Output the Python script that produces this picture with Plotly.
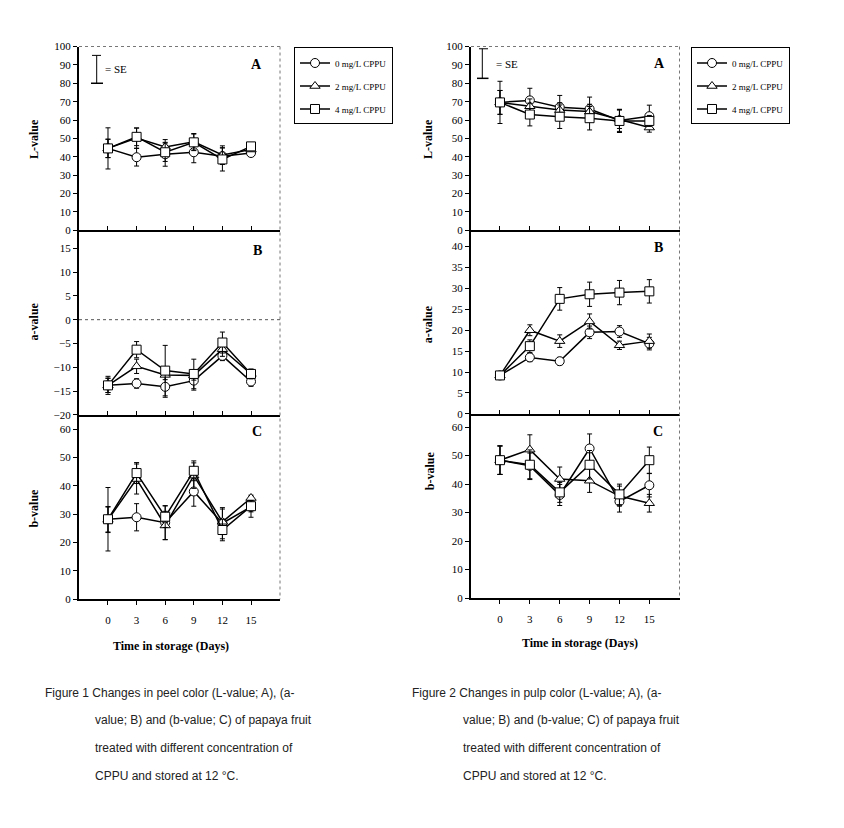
import math
import plotly.graph_objects as go

# page has an 8px body margin; the figure is sized to fit inside the window
OX, OY = 8, 8
FW, FH = 844 - 2 * OX, 828 - 2 * OY

days = [0, 3, 6, 9, 12, 15]
series_names = ["0 mg/L CPPU", "2 mg/L CPPU", "4 mg/L CPPU"]
x_tick_labels = ["0", "3", "6", "9", "12", "15"]

# Figure 1 - peel
peel_L_0 = [44.6, 39.8, 41.4, 42.5, 40.4, 42.1]
peel_L_2 = [44.6, 50.2, 45.4, 48.2, 41.0, 44.0]
peel_L_4 = [44.6, 50.9, 42.5, 47.9, 38.6, 45.7]
peel_L_0_se = [5.0, 4.8, 6.5, 5.7, 4.5, 1.0]
peel_L_2_se = [5.0, 5.5, 4.0, 4.5, 5.0, 1.0]
peel_L_4_se = [11.2, 4.8, 5.0, 4.5, 6.3, 1.0]

peel_a_0 = [-13.8, -13.4, -14.1, -12.8, -7.6, -13.0]
peel_a_2 = [-13.8, -9.8, -11.6, -11.7, -6.2, -11.4]
peel_a_4 = [-13.8, -6.3, -10.7, -11.4, -4.8, -11.4]
peel_a_0_se = [1.9, 1.0, 2.2, 2.0, 1.0, 1.0]
peel_a_2_se = [1.5, 1.5, 1.0, 1.0, 1.5, 1.0]
peel_a_4_se = [1.5, 1.7, 5.3, 3.1, 2.2, 1.0]

peel_b_0 = [28.2, 28.9, 27.0, 38.0, 26.8, 32.6]
peel_b_2 = [28.0, 42.4, 26.0, 43.6, 27.3, 35.7]
peel_b_4 = [28.2, 44.5, 29.1, 45.3, 24.4, 32.8]
peel_b_0_se = [4.5, 4.8, 6.0, 5.2, 5.5, 3.7]
peel_b_2_se = [4.5, 5.3, 5.0, 4.5, 4.5, 1.0]
peel_b_4_se = [11.2, 3.7, 3.8, 3.5, 3.8, 2.0]

# Figure 2 - pulp
pulp_L_0 = [69.6, 70.7, 67.0, 66.0, 59.8, 62.1]
pulp_L_2 = [69.6, 67.5, 65.4, 64.6, 60.4, 55.9]
pulp_L_4 = [69.6, 63.0, 61.8, 61.0, 59.5, 59.5]
pulp_L_0_se = [6.5, 6.6, 6.4, 6.5, 6.0, 6.0]
pulp_L_2_se = [6.5, 4.0, 4.0, 4.0, 5.0, 2.5]
pulp_L_4_se = [11.5, 6.2, 6.4, 6.4, 6.3, 3.0]

pulp_a_0 = [9.2, 13.5, 12.6, 19.5, 19.7, 16.8]
pulp_a_2 = [9.2, 20.0, 17.4, 22.1, 16.4, 17.4]
pulp_a_4 = [9.2, 16.2, 27.5, 28.6, 29.0, 29.3]
pulp_a_0_se = [0.8, 1.0, 0.9, 1.5, 1.4, 1.5]
pulp_a_2_se = [0.8, 1.3, 1.5, 1.8, 1.0, 1.7]
pulp_a_4_se = [0.8, 1.5, 2.7, 2.9, 2.9, 2.8]

pulp_b_0 = [48.4, 46.4, 36.2, 52.5, 33.9, 39.6]
pulp_b_2 = [48.4, 52.1, 41.8, 41.2, 35.8, 33.3]
pulp_b_4 = [48.4, 46.8, 37.1, 46.8, 36.4, 48.4]
pulp_b_0_se = [5.0, 4.5, 3.7, 5.1, 3.7, 4.1]
pulp_b_2_se = [5.0, 5.2, 4.2, 4.1, 3.5, 3.1]
pulp_b_4_se = [5.0, 5.2, 3.5, 5.0, 3.6, 4.6]

captions_1 = ["Figure 1 Changes in peel color (L-value; A), (a-",
              "value; B) and (b-value; C) of papaya fruit",
              "treated with different concentration of",
              "CPPU and stored at 12 °C."]
captions_2 = ["Figure 2 Changes in pulp color (L-value; A), (a-",
              "value; B) and (b-value; C) of papaya fruit",
              "treated with different concentration of",
              "CPPU and stored at 12 °C."]


def px(x):
    return (x - OX) / FW


def py(y):
    return 1 - (y - OY) / FH


SERIF = "Liberation Serif"
SANS = "Liberation Sans"
symbols = ["circle", "triangle-up", "square"]

fig = go.Figure()

panels = [
    (1, [peel_L_0, peel_L_2, peel_L_4], [peel_L_0_se, peel_L_2_se, peel_L_4_se], "legend"),
    (2, [peel_a_0, peel_a_2, peel_a_4], [peel_a_0_se, peel_a_2_se, peel_a_4_se], None),
    (3, [peel_b_0, peel_b_2, peel_b_4], [peel_b_0_se, peel_b_2_se, peel_b_4_se], None),
    (4, [pulp_L_0, pulp_L_2, pulp_L_4], [pulp_L_0_se, pulp_L_2_se, pulp_L_4_se], "legend2"),
    (5, [pulp_a_0, pulp_a_2, pulp_a_4], [pulp_a_0_se, pulp_a_2_se, pulp_a_4_se], None),
    (6, [pulp_b_0, pulp_b_2, pulp_b_4], [pulp_b_0_se, pulp_b_2_se, pulp_b_4_se], None),
]

for idx, vals, ses, leg in panels:
    sfx = "" if idx == 1 else str(idx)
    for k in range(3):
        fig.add_trace(go.Scatter(
            x=days, y=vals[k], mode="lines+markers",
            name=series_names[k],
            xaxis="x" + sfx, yaxis="y" + sfx,
            line=dict(color="black", width=1.5),
            marker=dict(symbol=symbols[k], size=9, color="white",
                        line=dict(color="black", width=1)),
            error_y=dict(type="data", array=ses[k], visible=True,
                         color="black", thickness=1, width=2.5),
            showlegend=leg is not None,
            legend=leg if leg else "legend",
            legendgroup=(leg or "n") + str(k),
        ))

# geometry (window pixels)
L_X = (79, 280)
R_X = (471, 679.5)
L_Y = [(41, 227.7), (227.7, 415), (415, 602)]
R_Y = [(41, 227.5), (227.5, 414), (414, 601)]
L_XR = [-3.04, 18.04]
R_XR = [-2.91, 18.03]
L_YR = [[-0.05, 100.05], [-20.02, 18.74], [-0.03, 65.0]]
R_YR = [[-0.05, 100.05], [-0.02, 43.9], [-0.03, 64.6]]
DT = [10, 5, 10]

tickfont = dict(family=SERIF, size=11, color="black")

layout = dict(
    width=FW, height=FH, margin=dict(l=0, r=0, t=0, b=0),
    paper_bgcolor="white", plot_bgcolor="white",
    showlegend=True,
)

for side in range(2):
    XD = L_X if side == 0 else R_X
    YD = L_Y if side == 0 else R_Y
    XR = L_XR if side == 0 else R_XR
    YR = L_YR if side == 0 else R_YR
    for p in range(3):
        idx = side * 3 + p + 1
        sfx = "" if idx == 1 else str(idx)
        bottom = p == 2
        layout["xaxis" + sfx] = dict(
            domain=[px(XD[0]), px(XD[1])], anchor="y" + sfx,
            range=XR, tickvals=days, ticktext=x_tick_labels,
            showticklabels=bottom, ticks="outside" if bottom else "inside",
            ticklen=4, tickwidth=1, tickcolor="black",
            showline=True, linewidth=2, linecolor="black",
            showgrid=False, zeroline=False, tickfont=tickfont,
            ticklabelstandoff=6,
        )
        lo, hi = YR[p]
        v = math.ceil(lo / DT[p]) * DT[p]
        tv = []
        while v <= hi + 1e-9:
            tv.append(v)
            v += DT[p]
        layout["yaxis" + sfx] = dict(
            domain=[py(YD[p][1]), py(YD[p][0])], anchor="x" + sfx,
            range=[lo, hi], tickvals=tv,
            ticks="outside", ticklen=4, tickwidth=1, tickcolor="black",
            showline=True, linewidth=2, linecolor="black",
            showgrid=False, zeroline=False, tickfont=tickfont,
        )

legend_common = dict(
    xanchor="left", yanchor="top", bordercolor="black", borderwidth=1,
    bgcolor="white", font=dict(family=SERIF, size=9, color="black"),
    tracegroupgap=4, itemwidth=30,
)
layout["legend"] = dict(x=px(294), y=py(42), **legend_common)
layout["legend2"] = dict(x=px(691), y=py(42), **legend_common)

shapes = []
for XD, YT, YB in [(L_X, 41, 602), (R_X, 41, 601)]:
    shapes.append(dict(type="line", xref="paper", yref="paper",
                       x0=px(XD[0]), x1=px(XD[1]), y0=py(YT), y1=py(YT),
                       line=dict(color="#777", width=1, dash="dot")))
    shapes.append(dict(type="line", xref="paper", yref="paper",
                       x0=px(XD[1]), x1=px(XD[1]), y0=py(YT), y1=py(YB),
                       line=dict(color="#777", width=1, dash="dot")))
shapes.append(dict(type="line", xref="x2 domain", yref="y2", x0=0, x1=1, y0=0, y1=0,
                   line=dict(color="#555", width=1, dash="dot")))
for (xc, yt, yb, tc, bc) in [(96.7, 50, 78.3, (92, 101), (91, 103)),
                             (482.3, 43.3, 73.3, (479, 488), (477, 488.5))]:
    shapes.append(dict(type="line", xref="paper", yref="paper",
                       x0=px(xc), x1=px(xc), y0=py(yt), y1=py(yb),
                       line=dict(color="black", width=1)))
    shapes.append(dict(type="line", xref="paper", yref="paper",
                       x0=px(tc[0]), x1=px(tc[1]), y0=py(yt), y1=py(yt),
                       line=dict(color="black", width=1)))
    shapes.append(dict(type="line", xref="paper", yref="paper",
                       x0=px(bc[0]), x1=px(bc[1]), y0=py(yb), y1=py(yb),
                       line=dict(color="black", width=1.5)))
layout["shapes"] = shapes

ann = []


def text(x, y, s, size, family=SERIF, bold=False, angle=0, xanchor="center", color="black"):
    ann.append(dict(xref="paper", yref="paper", x=px(x), y=py(y),
                    text=("<b>%s</b>" % s) if bold else s, showarrow=False,
                    xanchor=xanchor, yanchor="middle", textangle=angle,
                    font=dict(family=family, size=size, color=color)))


for lbl, (x, y) in zip(["A", "B", "C"], [(256.7, 59), (257.3, 247.7), (256.7, 431.7)]):
    text(x, y, lbl, 14, bold=True)
for lbl, (x, y) in zip(["A", "B", "C"], [(659, 58.3), (658, 245), (658.3, 431.7)]):
    text(x, y, lbl, 14, bold=True)

text(103, 64.3, "= SE", 11, xanchor="left")
text(494, 58.3, "= SE", 11, xanchor="left")

text(34, 135, "L-value", 12, bold=True, angle=-90)
text(34, 320, "a-value", 12, bold=True, angle=-90)
text(34, 510, "b-value", 12, bold=True, angle=-90)
text(428, 135, "L-value", 12, bold=True, angle=-90)
text(428, 323, "a-value", 12, bold=True, angle=-90)
text(430, 472, "b-value", 12, bold=True, angle=-90)

text(170.5, 649, "Time in storage (Days)", 12, bold=True)
text(579.5, 646, "Time in storage (Days)", 12, bold=True)

cap_y = [697, 725, 753, 781]
for i, s in enumerate(captions_1):
    text(42.7 if i == 0 else 93.3, cap_y[i], s, 12, family=SANS, xanchor="left", color="#222")
for i, s in enumerate(captions_2):
    text(409.5 if i == 0 else 461, cap_y[i], s, 12, family=SANS, xanchor="left", color="#222")

layout["annotations"] = ann
fig.update_layout(**layout)
fig.write_html("out.html")
